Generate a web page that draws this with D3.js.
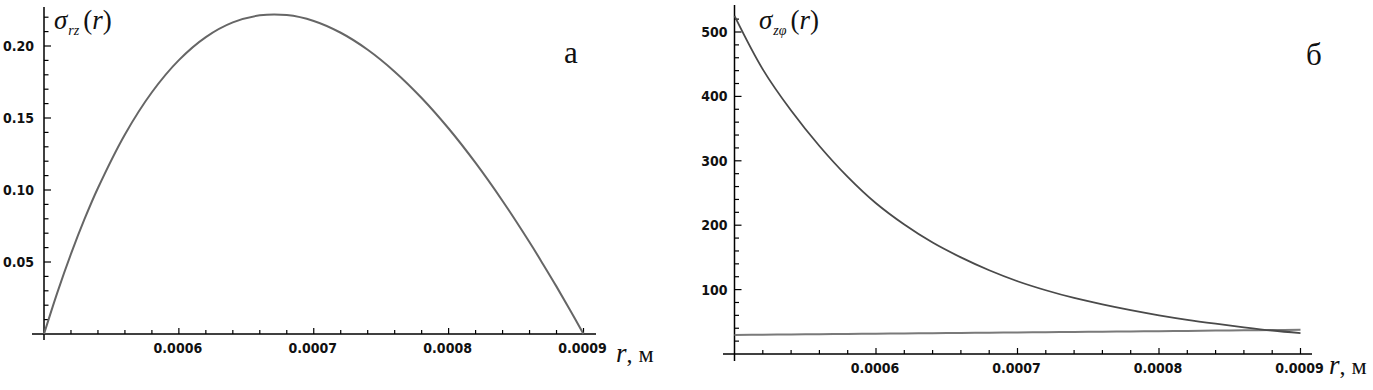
<!DOCTYPE html>
<html><head><meta charset="utf-8">
<script src="https://cdn.jsdelivr.net/npm/d3@7"></script>
<style>
body{margin:0;background:#fff;}
svg{display:block;}
.tick-lab{font-family:"DejaVu Sans Condensed","DejaVu Sans",sans-serif;font-weight:bold;font-size:14px;fill:#111;}
.serif{font-family:"Liberation Serif","Times New Roman",serif;fill:#111;}
</style></head>
<body>
<svg id="c" width="1373" height="390"></svg>
<script>
// ---- data ----
const rValues = [0.00050,0.00051,0.00052,0.00053,0.00054,0.00056,0.00058,0.00060,0.00062,0.00064,0.00066,0.00068,0.00070,0.00072,0.00074,0.00076,0.00078,0.00080,0.00082,0.00084,0.00086,0.00087,0.00088,0.00089,0.00090];
const sigmaRz = [0,0.0291,0.0556,0.0797,0.1014,0.1386,0.1679,0.1902,0.2062,0.2164,0.2213,0.2215,0.2174,0.2092,0.1974,0.1822,0.1639,0.1427,0.1188,0.0924,0.0637,0.0485,0.0329,0.0167,0];

const rValuesB = [0.00050,0.00052,0.00054,0.00056,0.00058,0.00060,0.00062,0.00064,0.00066,0.00068,0.00070,0.00072,0.00074,0.00076,0.00078,0.00080,0.00082,0.00084,0.00086,0.00088,0.00090];
const sigmaZphi = [525,442,378,323,275,234,201,173,150,130,113,99,87,77,68,60,53,47,41.5,36.5,32.5];
const sigmaZphiLow = [29.5,29.9,30.3,30.7,31.1,31.5,31.9,32.3,32.7,33.1,33.5,33.9,34.3,34.7,35.1,35.5,35.9,36.3,36.7,37.1,37.5];

const xTicks = [0.0006,0.0007,0.0008,0.0009];
const xTickLabels = ["0.0006","0.0007","0.0008","0.0009"];
const yTicksA = [0.05,0.10,0.15,0.20];
const yTickLabelsA = ["0.05","0.10","0.15","0.20"];
const yTicksB = [100,200,300,400,500];
const yTickLabelsB = ["100","200","300","400","500"];

const svg = d3.select("#c");

function panel(cfg){
  const g = svg.append("g");
  const x = d3.scaleLinear().domain([0.0005,0.0009]).range([cfg.x0, cfg.x1]);
  const y = d3.scaleLinear().domain([0, cfg.yRef]).range([cfg.yBase, cfg.yRefPx]);
  g.append("line").attr("x1",cfg.axLeft).attr("x2",cfg.axRight).attr("y1",y(0)).attr("y2",y(0))
    .attr("stroke","#000").attr("stroke-width",1.5);
  g.append("line").attr("x1",x(0.0005)).attr("x2",x(0.0005)).attr("y1",cfg.axTop).attr("y2",cfg.axBottom)
    .attr("stroke","#000").attr("stroke-width",1.5);
  const xMinor = d3.range(0.00052,0.000901,0.00002);
  xMinor.forEach(v=>{
    const major = xTicks.some(t=>Math.abs(t-v)<1e-9);
    g.append("line").attr("x1",x(v)).attr("x2",x(v)).attr("y1",y(0)).attr("y2",y(0)-(major?6:4))
      .attr("stroke","#000").attr("stroke-width",1.2);
  });
  xTicks.forEach((t,i)=>{
    g.append("text").attr("class","tick-lab").attr("x",x(t)-1).attr("y",y(0)+cfg.xLabDy)
      .attr("text-anchor","middle").text(xTickLabels[i]);
  });
  const yMinor = d3.range(cfg.yMinorStep, cfg.yMinorMax+cfg.yMinorStep/2, cfg.yMinorStep);
  yMinor.forEach(v=>{
    const major = cfg.yTicks.some(t=>Math.abs(t-v)<cfg.yMinorStep/10);
    g.append("line").attr("x1",x(0.0005)).attr("x2",x(0.0005)+(major?7:4.5)).attr("y1",y(v)).attr("y2",y(v))
      .attr("stroke","#000").attr("stroke-width",1.2);
  });
  cfg.yTicks.forEach((t,i)=>{
    g.append("text").attr("class","tick-lab").attr("x",x(0.0005)-cfg.yLabGap).attr("y",y(t)+5)
      .attr("text-anchor","end").text(cfg.yTickLabels[i]);
  });
  const line = d3.line().x(d=>x(d[0])).y(d=>y(d[1])).curve(d3.curveCatmullRom);
  cfg.series.forEach(s=>{
    g.append("path").datum(s.r.map((r,i)=>[r,s.v[i]])).attr("d",line)
      .attr("fill","none").attr("stroke",s.color).attr("stroke-width",s.w);
  });
  const t = g.append("text").attr("class","serif").attr("x",cfg.rLabX).attr("y",cfg.rLabY).attr("font-size",27);
  t.append("tspan").attr("font-style","italic").text("r");
  t.append("tspan").attr("font-size",24).text(", м");
  const s = g.append("text").attr("class","serif").attr("x",cfg.sigX).attr("y",29).attr("font-size",27);
  s.append("tspan").attr("font-style","italic").text("σ");
  s.append("tspan").attr("font-style","italic").attr("font-size",14).attr("dy",6).attr("dx",1).text(cfg.sub);
  s.append("tspan").attr("dy",-6).attr("dx",4).text("(");
  s.append("tspan").attr("font-style","italic").text("r");
  s.append("tspan").text(")");
  g.append("text").attr("class","serif").attr("x",cfg.letX).attr("y",cfg.letY).attr("font-size",31).text(cfg.letter);
}

panel({
  x0:44, x1:583.5, yBase:334, yRef:0.20, yRefPx:46,
  axLeft:32, axRight:596, axTop:7, axBottom:340,
  xLabDy:19, yLabGap:10,
  yMinorStep:0.01, yMinorMax:0.22, yTicks:yTicksA, yTickLabels:yTickLabelsA,
  series:[{r:rValues, v:sigmaRz, color:"#666", w:2}],
  rLabX:616, rLabY:362, sigX:54, sub:"rz", letX:564, letY:63, letter:"а"
});
panel({
  x0:734.5, x1:1300.5, yBase:354, yRef:500, yRefPx:32,
  axLeft:723, axRight:1312, axTop:5, axBottom:361,
  xLabDy:19, yLabGap:7,
  yMinorStep:20, yMinorMax:520, yTicks:yTicksB, yTickLabels:yTickLabelsB,
  series:[{r:rValuesB, v:sigmaZphiLow, color:"#7a7a7a", w:2},{r:rValuesB, v:sigmaZphi, color:"#4a4a4a", w:1.8}],
  rLabX:1329, rLabY:374, sigX:759, sub:"zφ", letX:1306, letY:65, letter:"б"
});
</script>
</body></html>
